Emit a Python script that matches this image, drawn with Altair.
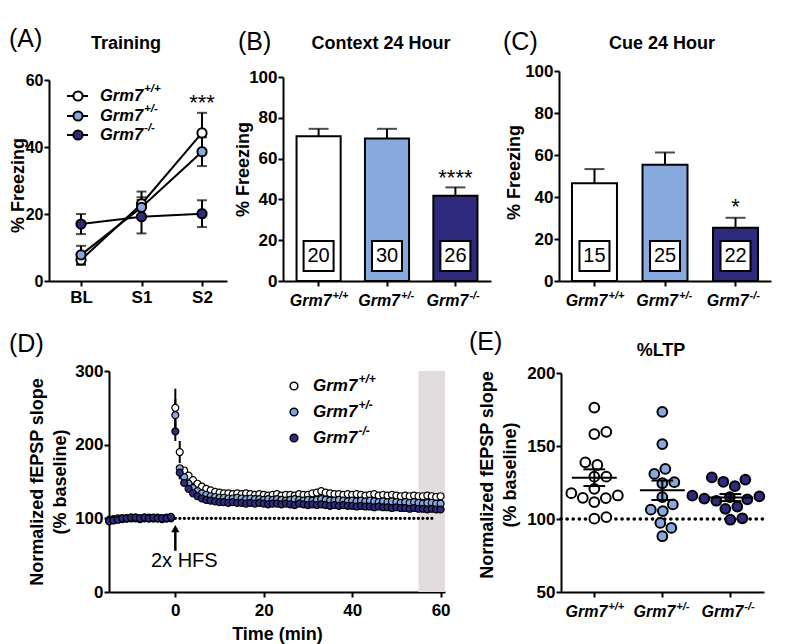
import json
import altair as alt
import pandas as pd
import numpy as np

FONT = "Liberation Sans"

# ---------------- shared categories ----------------
gene = "Grm7"
sups = ["+/+", "+/-", "-/-"]

# ---------------- (A) Training ----------------
a_time = ["BL", "S1", "S2"]
a_wt = [6.3, 23.0, 44.2]
a_het = [7.8, 22.0, 38.6]
a_ko = [17.0, 19.2, 20.1]
a_wt_sem = [1.5, 3.7, 6.0]
a_het_sem = [2.7, 3.0, 4.3]
a_ko_sem = [3.0, 5.0, 4.0]
a_star = "***"
a_star_y = 54.9

# ---------------- (B) Context 24 Hour ----------------
b_mean = [71.0, 69.8, 41.8]
b_sem = [3.6, 4.8, 4.1]
b_n = [20, 30, 26]
b_star = "****"
b_star_y = 53.4

# ---------------- (C) Cue 24 Hour ----------------
c_mean = [46.5, 55.4, 25.3]
c_sem = [6.8, 5.8, 4.8]
c_n = [15, 25, 22]
c_star = "*"
c_star_y = 38.2

# ---------------- (D) LTP time course ----------------
d_time = list(range(-15, 61))
d_wt = [
    98, 99, 99, 100, 100, 101, 100, 100, 101, 100, 100, 101, 100, 100, 101,
    250, 190, 165, 158, 152, 147, 143, 140, 138, 136,
    135, 134, 134, 133, 134, 133, 134, 133, 132, 133,
    132, 131, 132, 133, 131, 132, 132, 131, 133, 132,
    132, 134, 135, 137, 135, 134, 133, 133, 132, 133,
    132, 133, 132, 131, 132, 133, 131, 132, 131, 132,
    131, 130, 131, 130, 131, 130, 130, 131, 130, 129,
    130]
d_het = [
    97, 98, 100, 99, 100, 100, 101, 99, 100, 101, 100, 100, 99, 101, 100,
    240, 168, 156, 147, 141, 137, 134, 132, 130, 129,
    128, 128, 127, 127, 128, 127, 126, 127, 126, 126,
    125, 126, 125, 126, 125, 124, 125, 126, 125, 124,
    125, 124, 125, 126, 125, 124, 124, 125, 124, 123,
    124, 123, 124, 123, 124, 123, 122, 123, 122, 123,
    122, 121, 122, 121, 122, 121, 120, 121, 121, 120,
    120]
d_ko = [
    96, 97, 98, 100, 100, 101, 101, 100, 101, 100, 101, 100, 100, 100, 102,
    218, 162, 148, 140, 134, 130, 127, 125, 124, 123,
    122, 122, 121, 122, 121, 121, 120, 121, 120, 121,
    120, 119, 120, 120, 119, 120, 119, 118, 120, 119,
    118, 119, 118, 119, 118, 117, 118, 117, 118, 117,
    117, 116, 117, 116, 116, 115, 116, 115, 115, 114,
    115, 114, 114, 113, 114, 113, 113, 112, 113, 112,
    112]
d_err_t = [0, 1, 0, 0, 1]
d_err_g = ["+/+", "+/+", "+/-", "-/-", "-/-"]
d_err_lo = [224, 175, 218, 205, 153]
d_err_hi = [276, 205, 262, 231, 171]
d_band = [55, 61]
d_base_line = [0, 59]
d_arrow = [56, 86]
d_label = "2x HFS"
ltp_title = ["Normalized fEPSP slope", "(% baseline)"]

# ---------------- (E) %LTP ----------------
e_wt = [176.3, 159.7, 158.2, 138.8, 137.0, 129.0, 129.0, 120.7, 117.7, 116.1,
        114.5, 114.3, 111.6, 101.3, 100.2]
e_het = [173.4, 151.3, 134.3, 130.9, 125.2, 124.5, 115.0, 110.0, 106.4, 105.4,
         97.3, 93.9, 88.2]
e_ko = [128.5, 127.0, 125.5, 122.5, 116.0, 115.5, 115.0, 114.0, 113.5, 112.5,
        108.5, 107.0, 100.5, 99.5]

# ---------------- styling ----------------
A_COLORS = ["#ffffff", "#87a9de", "#2e2b7e"]
BAR_COLORS = ["#ffffff", "#9db4dc", "#2d1f6d"]
D_COLORS = ["#ffffff", "#7da4dc", "#2e2c80"]
E_COLORS = ["#ffffff", "#9cb6e0", "#2e2a7c"]
ONE = pd.DataFrame({"_": [0]})
TITLE_SIZE = 18
PANEL_TITLE = 18


def label(text, x, y, size, weight="normal", style="normal", align="left", baseline="middle", angle=0):
    return alt.Chart(ONE).mark_text(
        text=text, font=FONT, fontSize=size, fontWeight=weight, fontStyle=style,
        align=align, baseline=baseline, color="black", angle=angle
    ).encode(x=alt.value(x), y=alt.value(y))


def anchor(x, y):
    return alt.Chart(ONE).mark_point(size=1, opacity=0).encode(x=alt.value(x), y=alt.value(y))


def geno_text(x, y, sup, size, sup_size):
    w_main = 2.612 * size
    return [
        label(gene, x, y, size, "bold", "italic", "left", "middle"),
        label(sup, x + w_main + 1, y - 0.42 * size, sup_size, "bold", "italic", "left", "middle"),
    ]


def geno_axis(xenc, ypix, size=16, sup_size=11):
    df = pd.DataFrame({"g": sups})
    main = alt.Chart(df).mark_text(
        text=gene, font=FONT, fontSize=size, fontWeight="bold", fontStyle="italic",
        align="right", baseline="alphabetic", dx=13, color="black"
    ).encode(x=xenc, y=alt.value(ypix))
    sup = alt.Chart(df).mark_text(
        font=FONT, fontSize=sup_size, fontWeight="bold", fontStyle="italic",
        align="left", baseline="alphabetic", dx=14, color="black"
    ).encode(x=xenc, y=alt.value(ypix - 7), text="g:N")
    return [main, sup]


# =============== Panel A ===============
A_W, A_H = 178, 210
rows = []
for g, m, s in zip(sups, [a_wt, a_het, a_ko], [a_wt_sem, a_het_sem, a_ko_sem]):
    for i in range(len(a_time)):
        rows.append({"g": g, "idx": i, "m": m[i], "lo": m[i] - s[i], "hi": m[i] + s[i]})
df_a = pd.DataFrame(rows)

xa = alt.X("idx:Q", scale=alt.Scale(domain=[-0.529, 2.413], nice=False, zero=False),
           axis=alt.Axis(values=[0, 1, 2], labelExpr=json.dumps(a_time) + "[datum.value]",
                         title=None, labelPadding=3))


def ya(field):
    return alt.Y(field + ":Q", scale=alt.Scale(domain=[0, 60], range=[A_H, 9], nice=False),
                 axis=alt.Axis(values=[0, 20, 40, 60], title="% Freezing", titleX=-31,
                               titleY=114, titleBaseline="middle", labelFontSize=16))


fill_a = alt.Fill("g:N", scale=alt.Scale(domain=sups, range=A_COLORS), legend=None)
a_layers = [
    alt.Chart(df_a).mark_rule(color="black", strokeWidth=2).encode(x=xa, y=ya("lo"), y2="hi:Q"),
    alt.Chart(df_a).mark_tick(color="black", thickness=2, size=10, orient="horizontal").encode(x=xa, y=ya("lo")),
    alt.Chart(df_a).mark_tick(color="black", thickness=2, size=10, orient="horizontal").encode(x=xa, y=ya("hi")),
    alt.Chart(df_a).mark_line(color="black", strokeWidth=2).encode(x=xa, y=ya("m"), detail="g:N", order="idx:Q"),
    alt.Chart(df_a).mark_circle(size=85, stroke="black", strokeWidth=2, opacity=1).encode(x=xa, y=ya("m"), fill=fill_a),
    alt.Chart(pd.DataFrame({"idx": [2], "y": [a_star_y]})).mark_text(
        text=a_star, font=FONT, fontSize=22, baseline="middle", dy=6, color="black").encode(x=xa, y=ya("y")),
    label("(A)", -40, -32, 25),
    label("Training", 77, -27, PANEL_TITLE, "bold", align="center"),
    anchor(0, 245),
]
for i, (sup, col, ly) in enumerate(zip(sups, A_COLORS, [25, 45, 64])):
    a_layers.append(alt.Chart(ONE).mark_rule(color="black", strokeWidth=2).encode(
        x=alt.value(18), x2=alt.value(39), y=alt.value(ly)))
    a_layers.append(alt.Chart(ONE).mark_circle(size=85, fill=col, stroke="black", strokeWidth=2, opacity=1).encode(
        x=alt.value(29), y=alt.value(ly)))
    a_layers += geno_text(51, ly, sup, 16.5, 11.5)
panel_a = alt.layer(*a_layers).properties(width=A_W, height=A_H)


# =============== Panels B & C ===============
def bar_panel(means, sems, ns, star, star_y, width, ytop, pin, pout, plabel, plx, title, tx, titleX, titleY):
    H = 210
    df = pd.DataFrame({"g": sups, "m": means, "hi": [m + s for m, s in zip(means, sems)], "n": ns})
    xb = alt.X("g:N", scale=alt.Scale(domain=sups, paddingInner=pin, paddingOuter=pout),
               axis=alt.Axis(labels=False, title=None))

    def yb(field):
        return alt.Y(field + ":Q", scale=alt.Scale(domain=[0, 100], range=[H, ytop], nice=False),
                     axis=alt.Axis(values=[0, 20, 40, 60, 80, 100], title="% Freezing",
                                   titleX=titleX, titleY=titleY, titleBaseline="middle"))

    layers = [
        alt.Chart(df).mark_rule(color="black", strokeWidth=2).encode(x=xb, y=yb("m"), y2="hi:Q"),
        alt.Chart(df).mark_tick(color="black", thickness=2, size=20, orient="horizontal").encode(x=xb, y=yb("hi")),
        alt.Chart(df).mark_bar(stroke="black", strokeWidth=2).encode(
            x=xb, y=yb("m"),
            fill=alt.Fill("g:N", scale=alt.Scale(domain=sups, range=BAR_COLORS), legend=None)),
        alt.Chart(df).mark_point(shape="square", size=900, filled=True, fill="white", stroke="black",
                                 strokeWidth=2, opacity=1).encode(x=xb, y=alt.value(185)),
        alt.Chart(df).mark_text(font=FONT, fontSize=20, color="black", baseline="middle").encode(
            x=xb, y=alt.value(185), text="n:N"),
        alt.Chart(pd.DataFrame({"g": ["-/-"], "y": [star_y]})).mark_text(
            text=star, font=FONT, fontSize=22, baseline="middle", dy=6, color="black").encode(x=xb, y=yb("y")),
        label(plabel, plx, -29, 25),
        label(title, tx, -27, PANEL_TITLE, "bold", align="center"),
    ]
    layers += geno_axis(xb, H + 25)
    return alt.layer(*layers).properties(width=width, height=H)


panel_b = bar_panel(b_mean, b_sem, b_n, b_star, b_star_y, 208, 6, 0.355, 0.198,
                    "(B)", -45, "Context 24 Hour", 98, -40, 98)
panel_c = bar_panel(c_mean, c_sem, c_n, c_star, c_star_y, 212, 0, 0.362, 0.184,
                    "(C)", -56, "Cue 24 Hour", 103, -45, 101)

# =============== Panel D ===============
D_W, D_H = 336, 221
rows = []
for g, vals in zip(sups, [d_wt, d_het, d_ko]):
    for t, v in zip(d_time, vals):
        rows.append({"g": g, "t": t, "v": v})
df_d = pd.DataFrame(rows)


def xd(field):
    return alt.X(field + ":Q", scale=alt.Scale(domain=[-15, 61], nice=False, zero=False),
                 axis=alt.Axis(values=[0, 20, 40, 60], title="Time (min)", titleY=42,
                               titleBaseline="middle", labelPadding=5))


def yd(field):
    return alt.Y(field + ":Q", scale=alt.Scale(domain=[0, 300], nice=False),
                 axis=alt.Axis(values=[0, 100, 200, 300], title=None))


df_derr = pd.DataFrame({"t": d_err_t, "g": d_err_g, "lo": d_err_lo, "hi": d_err_hi})
d_layers = [
    alt.Chart(pd.DataFrame({"t1": [d_band[0]], "t2": [d_band[1]]})).mark_rect(color="#e2dcdf").encode(
        x=xd("t1"), x2="t2:Q"),
    alt.Chart(pd.DataFrame({"t1": [d_base_line[0]], "t2": [d_base_line[1]], "y": [100]})).mark_rule(
        color="black", strokeWidth=3.2, strokeDash=[0.1, 4.4], strokeCap="round").encode(
        x=xd("t1"), x2="t2:Q", y=yd("y")),
    alt.Chart(df_derr).mark_rule(color="black", strokeWidth=2).encode(x=xd("t"), y=yd("lo"), y2="hi:Q"),
    alt.Chart(df_d).mark_circle(size=48, stroke="black", strokeWidth=1.2, opacity=1).encode(
        x=xd("t"), y=yd("v"),
        fill=alt.Fill("g:N", scale=alt.Scale(domain=sups, range=D_COLORS), legend=None)),
    alt.Chart(pd.DataFrame({"t": [0], "y1": [d_arrow[0]], "y2": [d_arrow[1]]})).mark_rule(
        color="black", strokeWidth=2.5).encode(x=xd("t"), y=yd("y1"), y2="y2:Q"),
    alt.Chart(pd.DataFrame({"t": [0], "y": [d_arrow[1]]})).mark_point(
        shape="triangle-up", size=70, filled=True, color="black", opacity=1).encode(x=xd("t"), y=yd("y")),
    alt.Chart(pd.DataFrame({"t": [0], "y": [42]})).mark_text(
        text=d_label, font=FONT, fontSize=20, color="black", dx=9, baseline="middle").encode(x=xd("t"), y=yd("y")),
    label("(D)", -100, -27, 25),
    label(ltp_title[0], -71, 111, TITLE_SIZE, "bold", align="center", angle=270),
    label(ltp_title[1], -48, 111, TITLE_SIZE, "bold", align="center", angle=270),
    anchor(-100, -45),
]
for sup, col, ly in zip(sups, D_COLORS, [15, 41, 67]):
    d_layers.append(alt.Chart(ONE).mark_circle(size=60, fill=col, stroke="black", strokeWidth=1.5, opacity=1).encode(
        x=alt.value(185), y=alt.value(ly)))
    d_layers += geno_text(204, ly, sup, 17, 12)
panel_d = alt.layer(*d_layers).properties(width=D_W, height=D_H)


# =============== Panel E ===============
E_W, E_H = 203, 221
E_DOM = [-0.49, 2.495]
PX_PER_UNIT = E_W / (E_DOM[1] - E_DOM[0])
Y_PX = (E_H - 2) / 150.0


def swarm(vals, ypx, d):
    order = np.argsort(vals)
    placed = []
    offs = [0.0] * len(vals)
    cands = [0.0]
    for k in range(1, 200):
        cands += [k * 0.5, -k * 0.5]
    for i in order:
        y = vals[i] * ypx
        for c in cands:
            if all((c - px) ** 2 + (y - py) ** 2 >= d * d for px, py in placed):
                offs[i] = c
                placed.append((c, y))
                break
    return offs


rows = []
for idx, (g, vals) in enumerate(zip(sups, [e_wt, e_het, e_ko])):
    offs = swarm(vals, Y_PX, 12.0)
    for v, o in zip(vals, offs):
        rows.append({"g": g, "idx": idx, "x": idx + o / PX_PER_UNIT, "v": v})
df_e = pd.DataFrame(rows)


def xe(field):
    return alt.X(field + ":Q", scale=alt.Scale(domain=E_DOM, nice=False, zero=False),
                 axis=alt.Axis(values=[0, 1, 2], labels=False, title=None))


def ye(field):
    return alt.Y(field + ":Q", scale=alt.Scale(domain=[50, 200], range=[E_H, 2], nice=False),
                 axis=alt.Axis(values=[50, 100, 150, 200], title=None))


stats = alt.Chart(df_e).transform_aggregate(
    m="mean(v)", se="stderr(v)", groupby=["idx"]
).transform_calculate(
    lo="datum.m - datum.se", hi="datum.m + datum.se",
    a="datum.idx - 0.33", b="datum.idx + 0.33",
    c1="datum.idx - 0.16", c2="datum.idx + 0.16",
)
df_elab = pd.DataFrame({"g": sups, "idx": [0, 1, 2]})
e_layers = [
    alt.Chart(pd.DataFrame({"x1": [E_DOM[0]], "x2": [E_DOM[1] - 0.02], "y": [100]})).mark_rule(
        color="black", strokeWidth=3.6, strokeDash=[0.1, 6], strokeCap="round").encode(
        x=xe("x1"), x2="x2:Q", y=ye("y")),
    alt.Chart(df_e).mark_circle(size=95, stroke="black", strokeWidth=2, opacity=1).encode(
        x=xe("x"), y=ye("v"),
        fill=alt.Fill("g:N", scale=alt.Scale(domain=sups, range=E_COLORS), legend=None)),
    stats.mark_rule(color="black", strokeWidth=2).encode(x=xe("a"), x2="b:Q", y=ye("m")),
    stats.mark_rule(color="black", strokeWidth=2).encode(x=xe("idx"), y=ye("lo"), y2="hi:Q"),
    stats.mark_rule(color="black", strokeWidth=2).encode(x=xe("c1"), x2="c2:Q", y=ye("lo")),
    stats.mark_rule(color="black", strokeWidth=2).encode(x=xe("c1"), x2="c2:Q", y=ye("hi")),
    label("(E)", -92, -29, 25),
    label("%LTP", 100, -20, PANEL_TITLE, "bold", align="center"),
    label(ltp_title[0], -73, 104, TITLE_SIZE, "bold", align="center", angle=270),
    label(ltp_title[1], -50, 104, TITLE_SIZE, "bold", align="center", angle=270),
]
e_main = alt.Chart(df_elab).mark_text(
    text=gene, font=FONT, fontSize=16, fontWeight="bold", fontStyle="italic",
    align="right", baseline="alphabetic", dx=13, color="black").encode(x=xe("idx"), y=alt.value(E_H + 25))
e_sup = alt.Chart(df_elab).mark_text(
    font=FONT, fontSize=11, fontWeight="bold", fontStyle="italic",
    align="left", baseline="alphabetic", dx=14, color="black").encode(x=xe("idx"), y=alt.value(E_H + 18), text="g:N")
e_layers += [e_main, e_sup]
panel_e = alt.layer(*e_layers).properties(width=E_W, height=E_H)


# =============== layout ===============
def spacer(w):
    return alt.Chart(ONE).mark_point(opacity=0).encode(
        x=alt.value(0), y=alt.value(0)).properties(width=w, height=10)


top = alt.hconcat(panel_a, spacer(56), panel_b, spacer(68), panel_c, spacing=0, bounds="flush")
bottom = alt.hconcat(spacer(60), panel_d, spacer(116), panel_e, spacing=0, bounds="flush")

chart = alt.vconcat(
    top, bottom, spacing=8,
    padding={"left": 0, "top": 19, "right": 5, "bottom": 5},
).configure(font=FONT).configure_view(stroke=None).configure_axis(
    domainColor="black", domainWidth=2, tickColor="black", tickWidth=2, tickSize=5, grid=False,
    labelFont=FONT, labelFontSize=17, labelFontWeight="bold", labelColor="black", labelPadding=3,
    titleFont=FONT, titleFontSize=TITLE_SIZE, titleFontWeight="bold", titleColor="black",
).configure_axisY(labelPadding=1)

chart.save("out.html", embed_options={"renderer": "svg", "actions": False})
